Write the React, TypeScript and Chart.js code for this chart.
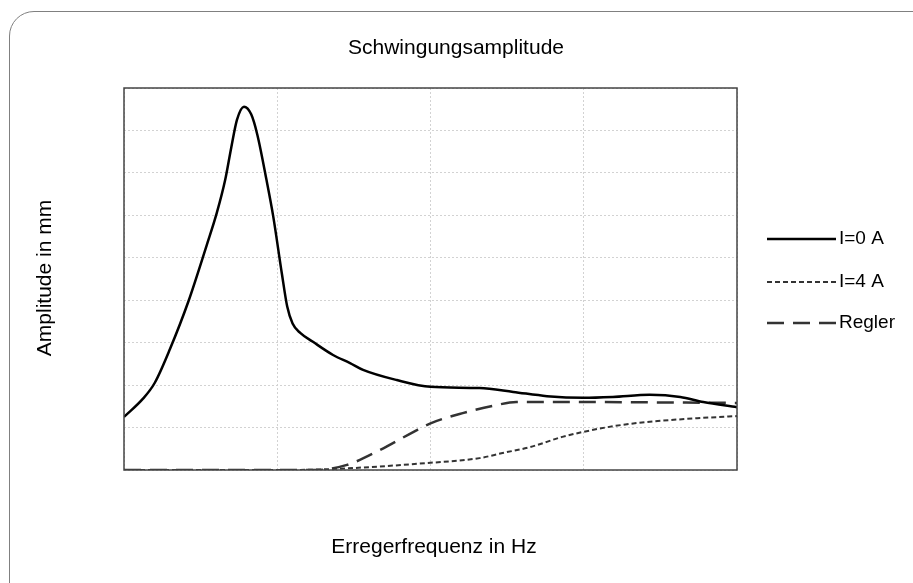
import React, { useEffect, useRef } from "react";
import { Chart, registerables } from "chart.js";

Chart.register(...registerables);

const TITLE = "Schwingungsamplitude";
const X_TITLE = "Erregerfrequenz in Hz";
const Y_TITLE = "Amplitude in mm";
const SERIES_NAMES = ["I=0 A", "I=4 A", "Regler"];

const I0_X = [0, 0.124, 0.2, 0.3, 0.42, 0.54, 0.605, 0.66, 0.7, 0.737, 0.783, 0.83, 0.87, 0.93, 0.974, 1.03, 1.065, 1.1, 1.15, 1.233, 1.364, 1.475, 1.56, 1.78, 2.0, 2.32, 2.54, 2.76, 3.0, 3.19, 3.43, 3.63, 3.78, 4.0];
const I0_Y = [1.25, 1.68, 2.05, 2.85, 3.97, 5.3, 6.05, 6.83, 7.6, 8.25, 8.56, 8.38, 7.9, 6.83, 5.97, 4.63, 3.85, 3.45, 3.23, 3.02, 2.71, 2.52, 2.36, 2.12, 1.96, 1.93, 1.84, 1.74, 1.7, 1.72, 1.77, 1.72, 1.6, 1.48];

const I4_X = [0, 1.0, 1.34, 2.0, 2.32, 2.47, 2.65, 2.86, 3.0, 3.19, 3.41, 3.74, 4.0];
const I4_Y = [0, 0, 0.02, 0.17, 0.28, 0.4, 0.54, 0.78, 0.9, 1.03, 1.13, 1.22, 1.27];

const REG_X = [0, 1.25, 1.455, 1.67, 1.89, 2.0, 2.21, 2.43, 2.56, 3.0, 4.0];
const REG_Y = [0, 0, 0.12, 0.47, 0.9, 1.1, 1.34, 1.53, 1.6, 1.6, 1.58];

const X_MAX = 4;
const Y_MAX = 9;

const FONT = "'Liberation Sans', Arial, Helvetica, sans-serif";

function pts(xs: number[], ys: number[]) {
  return xs.map((x, i) => ({ x, y: ys[i] }));
}

export default function App() {
  const ref = useRef<HTMLCanvasElement | null>(null);

  useEffect(() => {
    if (!ref.current) return;
    const styles = [
      { color: "#000000", width: 2.5, dash: [] as number[] },
      { color: "#333333", width: 2, dash: [5, 3] },
      { color: "#333333", width: 2.5, dash: [17, 9] },
    ];

    const decor = {
      id: "decor",
      afterDraw(chart: any) {
        const { ctx, chartArea } = chart;
        const { left, top, right, bottom } = chartArea;
        ctx.save();
        ctx.strokeStyle = "#444444";
        ctx.lineWidth = 1.5;
        ctx.setLineDash([]);
        ctx.strokeRect(left, top, right - left, bottom - top);
        ctx.fillStyle = "#000000";
        ctx.textAlign = "center";
        ctx.textBaseline = "middle";
        ctx.font = `21px ${FONT}`;
        ctx.fillText(TITLE, 456, 48);
        ctx.fillText(X_TITLE, 434, 547);
        ctx.save();
        ctx.translate(45, 278);
        ctx.rotate(-Math.PI / 2);
        ctx.fillText(Y_TITLE, 0, 0);
        ctx.restore();
        const rows = [239, 282, 323];
        ctx.font = `19px ${FONT}`;
        ctx.textAlign = "left";
        rows.forEach((y, i) => {
          const s = styles[i];
          ctx.beginPath();
          ctx.strokeStyle = s.color;
          ctx.lineWidth = s.width;
          ctx.setLineDash(s.dash);
          ctx.moveTo(767, y);
          ctx.lineTo(836, y);
          ctx.stroke();
          ctx.setLineDash([]);
          ctx.fillStyle = "#000000";
          ctx.fillText(SERIES_NAMES[i], 839, y);
        });
        ctx.restore();
      },
    };

    const chart = new Chart(ref.current, {
      type: "line",
      data: {
        datasets: [
          { label: SERIES_NAMES[0], data: pts(I0_X, I0_Y) },
          { label: SERIES_NAMES[1], data: pts(I4_X, I4_Y) },
          { label: SERIES_NAMES[2], data: pts(REG_X, REG_Y) },
        ].map((d, i) => ({
          ...d,
          borderColor: styles[i].color,
          borderWidth: styles[i].width,
          borderDash: styles[i].dash,
          pointRadius: 0,
          fill: false,
          cubicInterpolationMode: "monotone" as const,
          borderCapStyle: "butt" as const,
        })),
      },
      options: {
        animation: false,
        responsive: true,
        maintainAspectRatio: false,
        layout: { padding: { left: 124, top: 88, right: 176, bottom: 113 } },
        plugins: {
          legend: { display: false },
          title: { display: false },
          tooltip: { enabled: false },
        },
        scales: {
          x: {
            type: "linear",
            min: 0,
            max: X_MAX,
            ticks: { display: false, stepSize: 1 },
            grid: { color: "#d2d2d2", lineWidth: 1, drawTicks: false },
            border: { display: false, dash: [2, 2] },
          },
          y: {
            type: "linear",
            min: 0,
            max: Y_MAX,
            ticks: { display: false, stepSize: 1 },
            grid: { color: "#d2d2d2", lineWidth: 1, drawTicks: false },
            border: { display: false, dash: [2, 2] },
          },
        },
      },
      plugins: [decor],
    });
    return () => chart.destroy();
  }, []);

  return (
    <div style={{ position: "fixed", left: 0, top: 0, width: 913, height: 583, background: "#fff", overflow: "hidden" }}>
      <div
        style={{
          position: "absolute",
          left: 9,
          top: 11,
          width: 960,
          height: 640,
          border: "1px solid #808080",
          borderRadius: 25,
          boxSizing: "border-box",
        }}
      />
      <div style={{ position: "absolute", left: 0, top: 0, width: 913, height: 583 }}>
        <canvas ref={ref} />
      </div>
    </div>
  );
}
